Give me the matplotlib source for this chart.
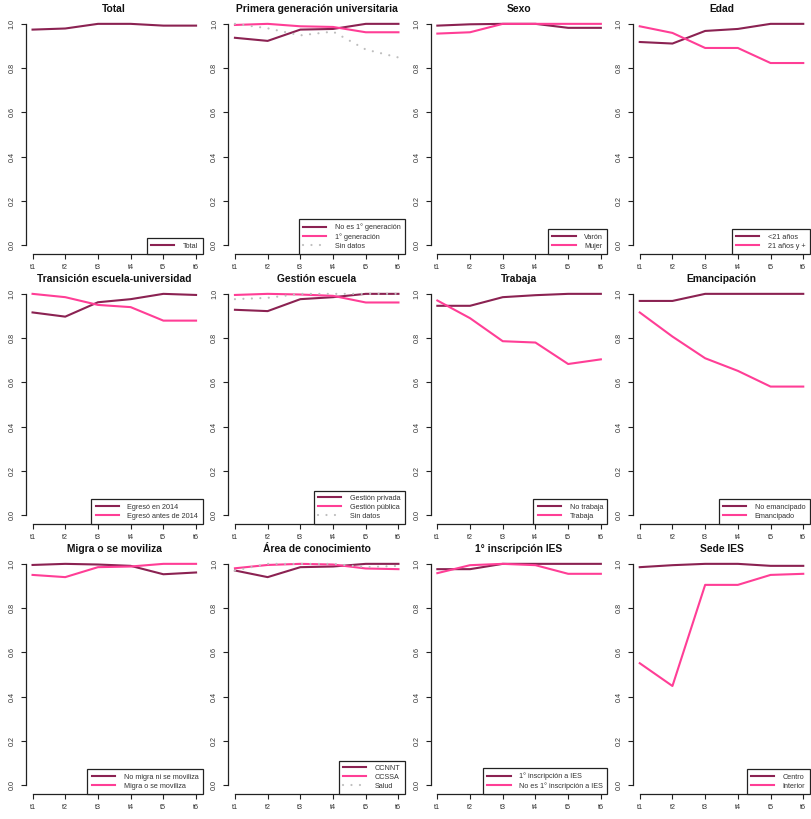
import matplotlib
matplotlib.use("Agg")
import matplotlib.pyplot as plt

plt.rcParams['font.family'] = ['Liberation Sans', 'DejaVu Sans']

periods = ["t1", "t2", "t3", "t4", "t5", "t6"]

MAROON = "#8B2252"
PINK = "#FF3E96"
GRAY = "#BEBEBE"

titles = [
    "Total", "Primera generación universitaria", "Sexo", "Edad",
    "Transición escuela-universidad", "Gestión escuela", "Trabaja", "Emancipación",
    "Migra o se moviliza", "Área de conocimiento", "1° inscripción IES", "Sede IES",
]

total = [0.974, 0.979, 1.0, 1.0, 0.992, 0.992]

gen_no1 = [0.937, 0.923, 0.974, 0.977, 1.0, 1.0]
gen_1 = [0.995, 1.0, 0.989, 0.986, 0.962, 0.962]
gen_sd = [1.0, 0.98, 0.948, 0.965, 0.884, 0.848]

sexo_varon = [0.992, 0.998, 1.0, 1.0, 0.982, 0.982]
sexo_mujer = [0.956, 0.962, 1.0, 1.0, 1.0, 1.0]

edad_menor21 = [0.918, 0.911, 0.968, 0.977, 1.0, 1.0]
edad_21mas = [0.989, 0.959, 0.891, 0.891, 0.823, 0.823]

trans_2014 = [0.916, 0.897, 0.962, 0.976, 1.0, 0.995]
trans_antes = [1.0, 0.985, 0.95, 0.94, 0.879, 0.879]

gest_priv = [0.928, 0.922, 0.976, 0.985, 1.0, 1.0]
gest_pub = [0.995, 1.0, 0.997, 0.991, 0.961, 0.961]
gest_sd = [0.976, 0.982, 1.0, 1.0, 1.0, 1.0]

trab_no = [0.946, 0.946, 0.985, 0.994, 1.0, 1.0]
trab_si = [0.97, 0.89, 0.786, 0.78, 0.683, 0.704]

eman_no = [0.968, 0.968, 1.0, 1.0, 1.0, 1.0]
eman_si = [0.916, 0.807, 0.709, 0.652, 0.581, 0.581]

migra_no = [0.995, 1.0, 0.997, 0.991, 0.953, 0.961]
migra_si = [0.95, 0.94, 0.985, 0.988, 1.0, 1.0]

area_ccnnt = [0.97, 0.94, 0.985, 0.988, 1.0, 1.0]
area_ccssa = [0.98, 0.995, 1.0, 0.997, 0.979, 0.976]
area_salud = [0.97, 1.0, 1.0, 1.0, 0.985, 0.991]

insc_1 = [0.976, 0.976, 1.0, 1.0, 1.0, 1.0]
insc_no = [0.958, 0.994, 1.0, 0.994, 0.955, 0.955]

sede_centro = [0.985, 0.994, 1.0, 1.0, 0.991, 0.991]
sede_interior = [0.551, 0.448, 0.905, 0.905, 0.95, 0.955]

panels = [
    [("Total", total, MAROON, "-")],
    [("No es 1° generación", gen_no1, MAROON, "-"), ("1° generación", gen_1, PINK, "-"),
     ("Sin datos", gen_sd, GRAY, ":")],
    [("Varón", sexo_varon, MAROON, "-"), ("Mujer", sexo_mujer, PINK, "-")],
    [("<21 años", edad_menor21, MAROON, "-"), ("21 años y +", edad_21mas, PINK, "-")],
    [("Egresó en 2014", trans_2014, MAROON, "-"), ("Egresó antes de 2014", trans_antes, PINK, "-")],
    [("Gestión privada", gest_priv, MAROON, "-"), ("Gestión pública", gest_pub, PINK, "-"),
     ("Sin datos", gest_sd, GRAY, ":")],
    [("No trabaja", trab_no, MAROON, "-"), ("Trabaja", trab_si, PINK, "-")],
    [("No emancipado", eman_no, MAROON, "-"), ("Emancipado", eman_si, PINK, "-")],
    [("No migra ni se moviliza", migra_no, MAROON, "-"), ("Migra o se moviliza", migra_si, PINK, "-")],
    [("CCNNT", area_ccnnt, MAROON, "-"), ("CCSSA", area_ccssa, PINK, "-"),
     ("Salud", area_salud, GRAY, ":")],
    [("1° inscripción a IES", insc_1, MAROON, "-"), ("No es 1° inscripción a IES", insc_no, PINK, "-")],
    [("Centro", sede_centro, MAROON, "-"), ("Interior", sede_interior, PINK, "-")],
]

W, H = 811, 819
fig = plt.figure(figsize=(W / 100, H / 100), dpi=100)

x = list(range(1, len(periods) + 1))
col_step = 202.4
row_step = 270
for i, (title, series) in enumerate(zip(titles, panels)):
    r, c = divmod(i, 4)
    left_px = 26 + c * col_step
    top_px = 15 + r * row_step
    w_px = 176.6
    h_px = 239
    ax = fig.add_axes([left_px / W, 1 - (top_px + h_px) / H, w_px / W, h_px / H])
    for label, vals, color, ls in series:
        if ls == ":":
            ax.plot(x, vals, color=color, lw=1.6, linestyle=(0, (0.01, 3.8)), label=label,
                    dash_capstyle='round')
        else:
            ax.plot(x, vals, color=color, lw=1.5, label=label, solid_joinstyle='round')
    ax.set_xlim(0.8, 6.2)
    ax.set_ylim(-0.04, 1.04)
    ax.set_xticks(x)
    ax.set_xticklabels(periods)
    ax.set_yticks([0, 0.2, 0.4, 0.6, 0.8, 1.0])
    ax.set_yticklabels(["0.0", "0.2", "0.4", "0.6", "0.8", "1.0"], rotation=90, va='center')
    for s in ['top', 'right']:
        ax.spines[s].set_visible(False)
    ax.spines['left'].set_bounds(0, 1)
    ax.spines['bottom'].set_bounds(1, 6)
    for s in ['left', 'bottom']:
        ax.spines[s].set_linewidth(0.9)
        ax.spines[s].set_color('#222222')
    ax.tick_params(axis='both', length=3.5, width=0.8, color='#222222',
                   labelsize=5.2, labelcolor='#333333', pad=4)
    ax.set_title(title, fontsize=7.4, fontweight='bold', pad=2, color='#111111')
    leg = ax.legend(loc='lower right', fontsize=5.2, frameon=True, fancybox=False,
                    borderaxespad=0, handlelength=3.2, handletextpad=1.2,
                    borderpad=0.6, labelspacing=0.25, framealpha=1)
    leg.get_frame().set_edgecolor('#222222')
    leg.get_frame().set_linewidth(0.9)
    for t in leg.get_texts():
        t.set_color('#333333')

fig.savefig("out.png", dpi=100)
